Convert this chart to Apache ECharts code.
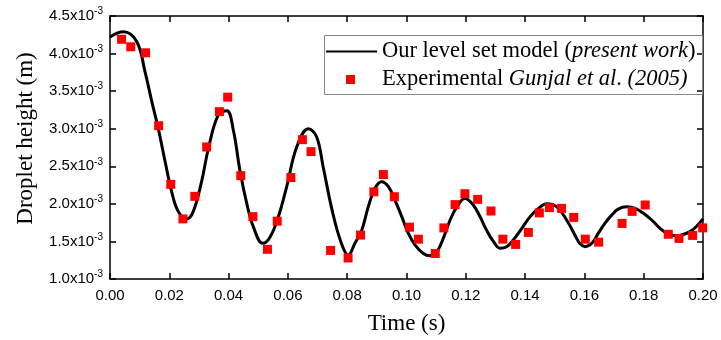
<!DOCTYPE html>
<html>
<head>
<meta charset="utf-8">
<script src="https://cdn.jsdelivr.net/npm/echarts@6/dist/echarts.min.js"></script>
<style>
html,body{margin:0;padding:0;background:#fff;}
#chart{width:721px;height:340px;}
</style>
</head>
<body>
<div id="chart"></div>
<script>
// Droplet height values in units of 1e-3 m
const timeModel = [0.000,0.0045,0.009,0.0118,0.0141,0.0163,0.0186,0.0208,0.0230,0.0259,0.0281,0.0309,0.0332,0.0365,0.0394,0.0416,0.0438,0.0461,0.0483,0.0515,0.054,0.0568,0.0596,0.063,0.0669,0.0697,0.0719,0.075,0.078,0.0804,0.0826,0.0849,0.0871,0.0894,0.0916,0.0939,0.0961,0.0984,0.1006,0.1029,0.1057,0.1079,0.1102,0.1124,0.1147,0.1170,0.1197,0.1225,0.1248,0.127,0.1293,0.1315,0.1338,0.136,0.1389,0.1417,0.1445,0.1473,0.1507,0.154,0.1574,0.1585,0.1602,0.1625,0.1647,0.1669,0.1692,0.1714,0.1743,0.1771,0.1799,0.1827,0.1855,0.1878,0.1906,0.1928,0.1956,0.1978,0.2000];
const heightModel = [4.22,4.29,4.16,3.76,3.36,3.00,2.56,2.16,1.90,1.80,1.90,2.30,2.74,3.18,3.24,2.98,2.45,2.01,1.70,1.475,1.56,1.83,2.23,2.76,3.00,2.89,2.49,1.90,1.48,1.32,1.475,1.65,1.96,2.21,2.295,2.23,2.05,1.83,1.61,1.45,1.34,1.31,1.36,1.54,1.785,1.96,2.07,1.985,1.83,1.65,1.50,1.41,1.43,1.52,1.675,1.83,1.94,2.00,1.96,1.785,1.54,1.47,1.43,1.475,1.61,1.74,1.85,1.93,1.96,1.94,1.875,1.785,1.675,1.61,1.575,1.585,1.63,1.70,1.80];
const timeExp = [0.0039,0.0070,0.0120,0.0164,0.0205,0.0246,0.0286,0.0326,0.0369,0.0397,0.0441,0.0482,0.0531,0.0564,0.0610,0.0649,0.0678,0.0744,0.0803,0.0845,0.0890,0.0922,0.0959,0.1010,0.1040,0.1097,0.1126,0.1164,0.1197,0.1240,0.1285,0.1325,0.1368,0.1411,0.1448,0.1482,0.1523,0.1564,0.1603,0.1648,0.1727,0.1761,0.1805,0.1883,0.1919,0.1965,0.1999];
const heightExp = [4.19,4.09,4.01,3.04,2.26,1.80,2.10,2.757,3.227,3.42,2.375,1.83,1.395,1.77,2.35,2.854,2.695,1.38,1.28,1.585,2.16,2.39,2.095,1.69,1.53,1.34,1.68,1.99,2.135,2.06,1.905,1.53,1.46,1.62,1.88,1.95,1.94,1.82,1.53,1.49,1.74,1.90,1.985,1.595,1.54,1.58,1.68];
const xTickStep = 0.02;
const yTickStep = 0.5;
const seriesNames = ['Our level set model (present work)', 'Experimental Gunjal et al. (2005)'];

const modelData = timeModel.map((t, i) => [t, heightModel[i]]);
const expData = timeExp.map((t, i) => [t, heightExp[i]]);

const serif = '"Liberation Serif","Times New Roman",serif';
const sans = '"Liberation Sans",Arial,sans-serif';

const chart = echarts.init(document.getElementById('chart'), null, {renderer: 'canvas'});
const axisLine = {show: true, onZero: false, lineStyle: {color: '#000', width: 1.5}};
const axisTick = {show: true, inside: true, length: 6, lineStyle: {color: '#000', width: 1.5}};

chart.setOption({
  animation: false,
  backgroundColor: '#fff',
  grid: {left: 110, right: 18, top: 16, bottom: 61, containLabel: false},
  graphic: [{
    type: 'rect', left: 322, top: 33, shape: {width: 378, height: 59},
    style: {fill: null, stroke: '#888', lineWidth: 1}, z: 5
  }],
  legend: [{
    data: [seriesNames[0]], left: 325, top: 40, padding: 0,
    itemWidth: 51, itemHeight: 3,
    itemStyle: {opacity: 0},
    formatter: () => '{n|Our level set model (}{i|present work}{n|)}',
    textStyle: {rich: {
      n: {fontFamily: serif, fontSize: 22.5, color: '#000'},
      i: {fontFamily: serif, fontSize: 22.5, fontStyle: 'italic', color: '#000'}
    }}
  }, {
    data: [seriesNames[1]], left: 346, top: 68, padding: 0,
    itemWidth: 9, itemHeight: 9,
    formatter: () => '{sp|}{n|Experimental }{i|Gunjal et al}{n|. }{i|(2005)}',
    textStyle: {rich: {
      sp: {width: 22},
      n: {fontFamily: serif, fontSize: 22.5, color: '#000'},
      i: {fontFamily: serif, fontSize: 22.5, fontStyle: 'italic', color: '#000'}
    }}
  }],
  xAxis: [{
    type: 'value', min: 0, max: 0.2, interval: xTickStep,
    name: 'Time (s)', nameLocation: 'middle', nameGap: 33,
    nameTextStyle: {fontFamily: serif, fontSize: 23, color: '#000'},
    axisLine, axisTick, splitLine: {show: false},
    axisLabel: {color: '#000', fontFamily: sans, fontSize: 15, margin: 9,
      formatter: v => v.toFixed(2)}
  }, {
    type: 'value', position: 'top', min: 0, max: 0.2, interval: xTickStep,
    axisLine, axisTick, splitLine: {show: false}, axisLabel: {show: false}
  }],
  yAxis: [{
    type: 'value', min: 1, max: 4.5, interval: yTickStep,
    name: 'Droplet height (m)', nameLocation: 'middle', nameGap: 73,
    nameTextStyle: {fontFamily: serif, fontSize: 23, color: '#000', padding: [0, 0, 0, 18]},
    axisLine, axisTick, splitLine: {show: false},
    axisLabel: {color: '#000', margin: 7,
      formatter: v => '{a|' + v.toFixed(1) + 'x10}{b|-3}',
      rich: {
        a: {fontFamily: sans, fontSize: 15, color: '#000'},
        b: {fontFamily: sans, fontSize: 10, color: '#000', padding: [0, 0, 9, 0]}
      }}
  }, {
    type: 'value', position: 'right', min: 1, max: 4.5, interval: yTickStep,
    axisLine, axisTick, splitLine: {show: false}, axisLabel: {show: false}
  }],
  series: [{
    name: seriesNames[0], type: 'line', data: modelData,
    showSymbol: false, symbol: 'none', smooth: 0.4,
    lineStyle: {color: '#000', width: 3}, itemStyle: {color: '#000'}, z: 2
  }, {
    name: seriesNames[1], type: 'scatter', data: expData,
    symbol: 'rect', symbolSize: 9,
    itemStyle: {color: '#ff0000', opacity: 1}, z: 3
  }]
});
</script>
</body>
</html>
